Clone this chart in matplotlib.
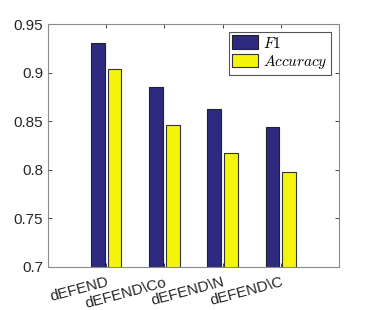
import numpy as np
import matplotlib
matplotlib.use('Agg')
import matplotlib.pyplot as plt

plt.rcParams['font.family'] = ['Liberation Sans', 'DejaVu Sans']
plt.rcParams['mathtext.fontset'] = 'cm'

methods = ['dEFEND', 'dEFEND\\Co', 'dEFEND\\N', 'dEFEND\\C']
f1 = [0.930, 0.885, 0.863, 0.844]
accuracy = [0.904, 0.846, 0.817, 0.798]
yticks = [0.7, 0.75, 0.8, 0.85, 0.9, 0.95]
ytick_labels = ['0.7', '0.75', '0.8', '0.85', '0.9', '0.95']

fig = plt.figure(figsize=(3.74, 3.10), dpi=100)
ax = fig.add_axes([48/374, 1-267/310, (339-48)/374, (267-24)/310])

x = np.arange(1, len(methods)+1)
w = 0.235
ax.bar(x-0.143, f1, w, color='#2e2a80', edgecolor='#222222', linewidth=0.8, label='$F1$')
ax.bar(x+0.143, accuracy, w, color='#f5f50c', edgecolor='#333333', linewidth=0.8, label='$Accuracy$')

ax.set_xlim(0, 5)
ax.set_ylim(0.7, 0.95)
ax.set_yticks(yticks)
ax.set_yticklabels(ytick_labels)
ax.set_xticks(x)
ax.set_xticklabels(methods, rotation=15, ha='right', rotation_mode='anchor')
ax.tick_params(direction='in', top=True, right=True, length=3, labelsize=11,
               colors='#262626', width=0.6)
ax.tick_params(axis='x', pad=6)
for s in ax.spines.values():
    s.set_color('#8a8a8a')
    s.set_linewidth(0.8)

leg = ax.legend(loc='upper right', fontsize=11, fancybox=False, framealpha=1,
                edgecolor='#555555', handlelength=1.7, handleheight=1.0,
                handletextpad=0.3, borderpad=0.25, labelspacing=0.15,
                borderaxespad=0.5)
leg.get_frame().set_linewidth(0.8)

fig.savefig('out.png', dpi=100)
